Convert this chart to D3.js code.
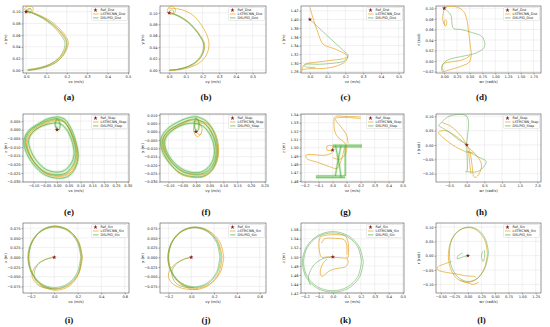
<!DOCTYPE html>
<html><head><meta charset="utf-8">
<script src="https://cdn.jsdelivr.net/npm/d3@7"></script>
<style>body{margin:0;background:#fff}</style>
</head><body><script>
// ---- data (x = velocity, y = position) ----
var aRef = [[0.0, 0.100]];
var aLstm = [
  [[0.0,0.103],[0.03,0.099],[0.08,0.092],[0.13,0.082],[0.17,0.069],[0.195,0.058],[0.207,0.048],[0.2,0.036],[0.18,0.024],[0.145,0.013],[0.1,0.006],[0.05,0.002],[0.01,0.0]],
  [[0.01,0.101],[0.04,0.097],[0.085,0.089],[0.128,0.079],[0.163,0.067],[0.187,0.056],[0.198,0.047],[0.192,0.036],[0.172,0.024],[0.138,0.014],[0.094,0.007],[0.048,0.003],[0.008,0.001]],
  [[0.0,0.100],[-0.006,0.105],[0.004,0.109],[0.02,0.110],[0.034,0.107],[0.032,0.101],[0.02,0.098],[0.006,0.100],[0.012,0.104],[0.025,0.105]]
];
var aDsl = [
  [[0.005,0.101],[0.035,0.097],[0.08,0.089],[0.123,0.078],[0.158,0.066],[0.181,0.055],[0.191,0.046],[0.185,0.035],[0.166,0.023],[0.133,0.013],[0.09,0.006],[0.045,0.002],[0.005,0.0]],
  [[0.0,0.102],[0.03,0.098],[0.078,0.091],[0.126,0.08],[0.165,0.068],[0.19,0.057],[0.201,0.047],[0.196,0.036],[0.176,0.023],[0.142,0.012],[0.097,0.005],[0.05,0.001],[0.008,-0.001]],
  [[0.0,0.100],[0.008,0.105],[0.02,0.106],[0.026,0.102],[0.015,0.099],[0.0,0.100]]
];
var aXTicks = [0.0,0.1,0.2,0.3,0.4,0.5];
var aYTicks = [0.00,0.02,0.04,0.06,0.08,0.10];

var bRef = [[0.0, 0.100]];
var bLstm = [
  [[0.0,0.108],[0.05,0.107],[0.10,0.103],[0.15,0.094],[0.19,0.08],[0.222,0.064],[0.238,0.048],[0.232,0.033],[0.205,0.019],[0.16,0.009],[0.10,0.003],[0.04,0.0],[0.0,-0.001]],
  [[0.02,0.099],[0.062,0.094],[0.112,0.085],[0.157,0.072],[0.192,0.058],[0.212,0.046],[0.209,0.034],[0.187,0.021],[0.147,0.01],[0.092,0.004],[0.042,0.001],[0.0,0.0]],
  [[-0.012,0.104],[0.0,0.11],[0.02,0.111],[0.037,0.106],[0.03,0.099],[0.01,0.098],[-0.008,0.1],[-0.012,0.104]]
];
var bDsl = [
  [[0.01,0.1],[0.055,0.095],[0.105,0.086],[0.15,0.073],[0.185,0.059],[0.205,0.047],[0.203,0.035],[0.182,0.022],[0.142,0.011],[0.088,0.004],[0.04,0.001],[0.0,0.0]],
  [[0.015,0.099],[0.06,0.093],[0.108,0.084],[0.153,0.071],[0.188,0.057],[0.208,0.045],[0.205,0.033],[0.184,0.021],[0.144,0.011],[0.09,0.004],[0.042,0.001],[0.002,0.0]],
  [[0.0,0.1],[0.01,0.105],[0.025,0.104],[0.022,0.099],[0.005,0.099]]
];
var bXTicks = [0.0,0.1,0.2,0.3,0.4,0.5];
var bYTicks = [0.00,0.02,0.04,0.06,0.08,0.10];

var cRef = [[0.0, 1.40]];
var cLstm = [
  [[0.0,1.428],[0.02,1.40],[0.045,1.37],[0.075,1.343],[0.13,1.334],[0.18,1.325],[0.212,1.316],[0.205,1.306],[0.17,1.296],[0.11,1.289],[0.05,1.287],[0.0,1.287],[-0.035,1.285],[-0.045,1.283]],
  [[-0.045,1.283],[-0.04,1.29],[-0.03,1.297],[0.04,1.302],[0.12,1.306],[0.19,1.31],[0.21,1.314]]
];
var cDsl = [
  [[0.0,1.40],[0.05,1.381],[0.1,1.362],[0.15,1.343],[0.19,1.328],[0.215,1.318],[0.21,1.311],[0.19,1.304],[0.12,1.299],[0.05,1.297],[-0.02,1.297],[-0.032,1.294],[-0.02,1.291],[0.03,1.29]]
];
var cXTicks = [0.0,0.1,0.2,0.3,0.4,0.5];
var cYTicks = [1.28,1.30,1.32,1.34,1.36,1.38,1.40,1.42];

var dRef = [[0.0, 0.100]];
var dLstm = [
  [[0.0,0.10],[0.1,0.104],[0.26,0.102],[0.38,0.094],[0.44,0.08],[0.48,0.055],[0.51,0.03],[0.53,0.012],[0.49,-0.002],[0.35,-0.009],[0.2,-0.014],[0.05,-0.018],[-0.04,-0.02],[-0.045,-0.012],[-0.02,-0.005],[0.1,-0.002],[0.25,0.0],[0.4,0.004],[0.5,0.01]],
  [[0.0,0.10],[-0.02,0.09],[-0.03,0.08],[-0.01,0.072],[0.03,0.067],[0.05,0.073],[0.03,0.078],[0.0,0.074],[0.02,0.066]]
];
var dDsl = [
  [[0.0,0.10],[0.06,0.095],[0.13,0.087],[0.18,0.062],[0.32,0.06],[0.55,0.054],[0.745,0.046],[0.79,0.027],[0.615,0.015],[0.32,0.0085],[0.065,0.002],[-0.03,-0.007],[-0.04,-0.015],[0.0,-0.018]]
];
var dXTicks = [0.00,0.25,0.50,0.75,1.00,1.25,1.50,1.75];
var dYTicks = [-0.02,0.00,0.02,0.04,0.06,0.08,0.10];

var eRef = [[0.0, 0.0]];
var eLstm = [
  [[0.0,0.006],[0.03,0.0045],[0.058,-0.001],[0.078,-0.009],[0.084,-0.015],[0.072,-0.021],[0.042,-0.0255],[0.0,-0.0265],[-0.048,-0.025],[-0.092,-0.0195],[-0.122,-0.0125],[-0.13,-0.0065],[-0.112,-0.0015],[-0.072,0.0025],[-0.032,0.005],[0.0,0.006]],
  [[0.005,0.0055],[0.033,0.004],[0.06,-0.0015],[0.082,-0.0095],[0.088,-0.0155],[0.076,-0.0215],[0.045,-0.026],[0.002,-0.027],[-0.046,-0.0255],[-0.09,-0.02],[-0.118,-0.013],[-0.126,-0.007],[-0.108,-0.002],[-0.068,0.002],[-0.028,0.0045],[0.005,0.0055]]
];
var eDsl = [
  [[0.0,0.0065],[0.028,0.005],[0.055,-0.0005],[0.075,-0.0085],[0.08,-0.0145],[0.068,-0.0205],[0.038,-0.025],[-0.002,-0.026],[-0.05,-0.0245],[-0.095,-0.019],[-0.125,-0.012],[-0.134,-0.006],[-0.116,-0.001],[-0.075,0.003],[-0.035,0.0055],[0.0,0.0065]],
  [[0.002,0.004],[0.025,0.0025],[0.05,-0.002],[0.068,-0.009],[0.072,-0.0145],[0.06,-0.0195],[0.032,-0.0235],[-0.003,-0.0245],[-0.046,-0.023],[-0.086,-0.018],[-0.113,-0.0115],[-0.12,-0.006],[-0.103,-0.0015],[-0.066,0.002],[-0.03,0.0035],[0.002,0.004]],
  [[0.003,0.0075],[0.033,0.006],[0.062,0.0],[0.083,-0.0085],[0.09,-0.0155],[0.078,-0.022],[0.046,-0.027],[0.0,-0.028],[-0.052,-0.026],[-0.1,-0.02],[-0.132,-0.0125],[-0.14,-0.006],[-0.12,-0.0005],[-0.078,0.0035],[-0.036,0.0065],[0.003,0.0075]],
  [[0.0,0.0],[-0.008,0.003],[0.0,0.006],[0.012,0.004],[0.008,0.0],[-0.005,0.002]]
];
var eXTicks = [-0.10,-0.05,0.00,0.05,0.10,0.15,0.20,0.25,0.30];
var eYTicks = [-0.030,-0.025,-0.020,-0.015,-0.010,-0.005,0.000,0.005];

var fRef = [[0.0, 0.0]];
var fLstm = [
  [[0.0,0.006],[0.035,0.004],[0.062,-0.002],[0.076,-0.009],[0.074,-0.016],[0.058,-0.022],[0.03,-0.0255],[-0.005,-0.026],[-0.05,-0.024],[-0.09,-0.018],[-0.113,-0.011],[-0.116,-0.005],[-0.095,0.0],[-0.055,0.004],[-0.02,0.0065],[0.0,0.006]],
  [[0.0,0.0],[0.015,-0.002],[0.022,0.002],[0.012,0.005],[-0.005,0.004],[-0.008,0.0],[0.005,-0.003],[0.02,-0.001]],
  [[0.0,0.007],[0.04,0.005],[0.07,-0.001],[0.082,-0.009],[0.078,-0.017],[0.06,-0.023],[0.03,-0.027],[-0.008,-0.0275],[-0.055,-0.0255],[-0.095,-0.019],[-0.12,-0.011],[-0.122,-0.0045],[-0.1,0.0005],[-0.06,0.0045],[-0.022,0.007]]
];
var fDsl = [
  [[0.0,0.0075],[0.032,0.005],[0.058,-0.001],[0.072,-0.0085],[0.071,-0.0155],[0.055,-0.0215],[0.026,-0.025],[-0.008,-0.0255],[-0.052,-0.0235],[-0.093,-0.0175],[-0.117,-0.0105],[-0.12,-0.0045],[-0.1,0.0005],[-0.06,0.0045],[-0.024,0.007],[0.0,0.0075]],
  [[0.004,0.009],[0.036,0.0065],[0.063,0.0005],[0.078,-0.008],[0.077,-0.0155],[0.06,-0.0225],[0.029,-0.0265],[-0.007,-0.027],[-0.055,-0.025],[-0.098,-0.0185],[-0.124,-0.011],[-0.127,-0.004],[-0.105,0.0015],[-0.063,0.006],[-0.024,0.0085],[0.004,0.009]],
  [[-0.002,0.005],[0.028,0.003],[0.052,-0.002],[0.066,-0.009],[0.065,-0.015],[0.05,-0.0205],[0.022,-0.024],[-0.01,-0.0245],[-0.05,-0.0225],[-0.088,-0.017],[-0.11,-0.0105],[-0.113,-0.005],[-0.095,-0.0005],[-0.057,0.0035],[-0.024,0.005],[-0.002,0.005]],
  [[0.0,0.0],[-0.006,0.004],[0.0,0.008],[0.01,0.006],[0.008,0.001],[0.0,0.0]]
];
var fXTicks = [-0.10,-0.05,0.00,0.05,0.10,0.15,0.20,0.25];
var fYTicks = [-0.030,-0.025,-0.020,-0.015,-0.010,-0.005,0.000,0.005,0.010];

var gRef = [[0.0, 1.497]];
var gLstm = [
  [[0.2,1.537],[0.1,1.5375],[0.015,1.537],[0.01,1.53],[0.015,1.52],[0.04,1.512],[0.08,1.507],[0.1,1.501],[0.09,1.492],[0.05,1.486],[0.0,1.488]],
  [[0.2,1.535],[0.02,1.535],[0.06,1.525],[0.1,1.515],[0.11,1.505]],
  [[0.0,1.494],[-0.05,1.491],[-0.19,1.491],[-0.185,1.487],[-0.1,1.482],[-0.02,1.477],[0.03,1.475],[0.05,1.48],[0.07,1.49],[0.085,1.5]],
  [[-0.04,1.497],[-0.04,1.502],[0.0,1.502],[0.0,1.497],[-0.04,1.497]]
];
var gDsl = [
  [[0.0,1.503],[0.1,1.503],[0.21,1.503]],
  [[0.0,1.501],[0.21,1.501]],
  [[-0.12,1.466],[0.0,1.466],[0.09,1.466]],
  [[-0.12,1.464],[0.09,1.464]],
  [[0.02,1.503],[0.035,1.49],[0.05,1.477],[0.06,1.464]],
  [[0.06,1.503],[0.045,1.49],[0.03,1.477],[0.02,1.466]],
  [[0.09,1.503],[0.09,1.466]]
];
var gXTicks = [-0.2,-0.1,0.0,0.1,0.2,0.3,0.4,0.5];
var gYTicks = [1.46,1.47,1.48,1.49,1.50,1.51,1.52,1.53,1.54];

var hRef = [[0.0, 0.0]];
var hLstm = [
  [[0.0,0.0],[-0.3,0.03],[-0.6,0.05],[-0.8,0.045],[-0.75,0.035],[-0.4,0.0],[-0.1,-0.02],[0.0,-0.025],[0.2,-0.028]],
  [[0.0,0.0],[-0.15,0.03],[-0.45,0.065],[-0.7,0.078]],
  [[0.0,-0.005],[0.15,-0.02],[0.3,-0.04],[0.42,-0.07],[0.35,-0.1],[0.25,-0.113],[0.2,-0.11],[0.15,-0.07],[0.1,-0.03],[0.05,-0.01],[0.0,0.0]],
  [[0.05,-0.02],[0.08,-0.06],[0.12,-0.1]]
];
var hDsl = [
  [[-0.8,0.067],[-0.5,0.1],[0.0,0.1],[0.0,0.0],[0.0,-0.093],[-0.04,-0.093]],
  [[0.0,-0.02],[0.3,-0.04],[0.55,-0.058],[0.45,-0.08],[0.3,-0.093],[0.0,-0.093]],
  [[-0.8,0.067],[-0.5,0.045],[-0.25,0.02],[-0.05,0.005],[0.0,0.0]]
];
var hXTicks = [-0.5,0.0,0.5,1.0,1.5,2.0];
var hYTicks = [-0.10,-0.05,0.00,0.05,0.10];

var iRef = [[0.0, 0.0]];
var iLstm = [
  [[0.24,-0.001],[0.209,0.0395],[0.125,0.069],[0.01,0.08],[-0.105,0.069],[-0.189,0.0395],[-0.22,-0.001],[-0.189,-0.0415],[-0.105,-0.0711],[0.01,-0.082],[0.125,-0.0711],[0.209,-0.0415],[0.24,-0.001]],
  [[0.23,0.002],[0.2,0.041],[0.118,0.07],[0.005,0.079],[-0.108,0.068],[-0.19,0.038],[-0.218,-0.003],[-0.185,-0.044],[-0.1,-0.074],[0.012,-0.085],[0.128,-0.074],[0.205,-0.044],[0.23,0.002]],
  [[0.0,0.0],[-0.05,-0.003],[-0.12,-0.012],[-0.17,-0.028],[-0.19,-0.045],[-0.17,-0.062],[-0.12,-0.075],[-0.05,-0.081],[0.02,-0.082]]
];
var iDsl = [
  [[0.235,0.0],[0.205,0.04],[0.12,0.07],[0.005,0.081],[-0.11,0.07],[-0.194,0.04],[-0.225,0.0],[-0.194,-0.04],[-0.11,-0.07],[0.005,-0.081],[0.12,-0.07],[0.205,-0.04],[0.235,0.0]],
  [[0.225,0.001],[0.196,0.039],[0.114,0.068],[0.003,0.078],[-0.108,0.068],[-0.188,0.039],[-0.216,0.0],[-0.188,-0.039],[-0.108,-0.068],[0.003,-0.078],[0.114,-0.068],[0.196,-0.039],[0.225,0.001]],
  [[0.0,0.0],[-0.06,-0.004],[-0.13,-0.016],[-0.165,-0.033],[-0.17,-0.05],[-0.145,-0.066],[-0.09,-0.077],[-0.02,-0.08]]
];
var iXTicks = [-0.2,0.0,0.2,0.4,0.6];
var iYTicks = [-0.075,-0.050,-0.025,0.000,0.025,0.050,0.075];

var jRef = [[0.0, 0.0]];
var jLstm = [
  [[0.285,-0.001],[0.252,0.0385],[0.162,0.067],[0.04,0.078],[-0.082,0.067],[-0.172,0.0385],[-0.205,-0.001],[-0.172,-0.0405],[-0.082,-0.069],[0.04,-0.08],[0.162,-0.069],[0.252,-0.0405],[0.285,-0.001]],
  [[0.27,0.0],[0.238,0.038],[0.152,0.066],[0.035,0.077],[-0.085,0.066],[-0.17,0.038],[-0.2,0.0],[-0.168,-0.042],[-0.08,-0.072],[0.04,-0.083],[0.158,-0.071],[0.242,-0.04],[0.27,0.0]],
  [[0.0,0.0],[-0.06,-0.004],[-0.13,-0.015],[-0.185,-0.032],[-0.2,-0.05],[-0.17,-0.066],[-0.1,-0.078],[-0.01,-0.083],[0.06,-0.082]]
];
var jDsl = [
  [[0.26,0.0],[0.23,0.039],[0.145,0.068],[0.03,0.078],[-0.088,0.068],[-0.172,0.039],[-0.205,0.0],[-0.172,-0.039],[-0.088,-0.068],[0.03,-0.078],[0.145,-0.068],[0.23,-0.039],[0.26,0.0]],
  [[0.25,0.0],[0.222,0.038],[0.14,0.066],[0.028,0.076],[-0.086,0.066],[-0.168,0.038],[-0.198,0.0],[-0.168,-0.038],[-0.086,-0.066],[0.028,-0.076],[0.14,-0.066],[0.222,-0.038],[0.25,0.0]],
  [[0.0,0.0],[-0.07,-0.006],[-0.14,-0.02],[-0.17,-0.038],[-0.16,-0.055],[-0.12,-0.07],[-0.05,-0.077],[0.02,-0.078]]
];
var jXTicks = [-0.2,0.0,0.2,0.4,0.6];
var jYTicks = [-0.075,-0.050,-0.025,0.000,0.025,0.050,0.075];

var kRef = [[0.0, 1.50]];
var kLstm = [
  [[-0.09,1.545],[-0.05,1.548],[0.03,1.549],[0.09,1.546],[0.11,1.53],[0.112,1.51],[0.105,1.498],[0.06,1.498],[0.0,1.499],[-0.04,1.5],[-0.08,1.499],[-0.095,1.51],[-0.1,1.53],[-0.09,1.545]],
  [[0.1,1.498],[0.11,1.488],[0.09,1.478],[0.04,1.475],[-0.02,1.47],[-0.06,1.46],[-0.08,1.457],[-0.09,1.465],[-0.08,1.48],[-0.06,1.49],[-0.04,1.495]],
  [[-0.08,1.53],[-0.06,1.54],[0.02,1.541],[0.08,1.538],[0.1,1.525],[0.1,1.505]]
];
var kDsl = [
  [[0.218,1.488],[0.189,1.522],[0.109,1.547],[0.0,1.556],[-0.109,1.547],[-0.189,1.522],[-0.218,1.488],[-0.189,1.454],[-0.109,1.43],[0.0,1.422],[0.109,1.43],[0.189,1.454],[0.218,1.488]],
  [[0.205,1.49],[0.178,1.522],[0.102,1.545],[-0.002,1.553],[-0.106,1.545],[-0.182,1.521],[-0.21,1.488],[-0.182,1.456],[-0.106,1.433],[-0.002,1.425],[0.102,1.433],[0.178,1.456],[0.205,1.49]],
  [[0.0,1.50],[-0.06,1.497],[-0.12,1.487],[-0.16,1.47],[-0.175,1.452],[-0.16,1.437]]
];
var kXTicks = [-0.2,-0.1,0.0,0.1,0.2,0.3,0.4,0.5];
var kYTicks = [1.42,1.44,1.46,1.48,1.50,1.52,1.54,1.56];

var lRef = [[0.0, 0.0]];
var lLstm = [
  [[0.36,0.005],[0.32,0.05],[0.19,0.085],[0.02,0.098],[-0.16,0.088],[-0.3,0.055],[-0.36,0.005],[-0.32,-0.045],[-0.2,-0.08],[-0.02,-0.093],[0.16,-0.082],[0.3,-0.045],[0.36,0.005]],
  [[-0.3,-0.02],[-0.45,-0.03],[-0.56,-0.04],[-0.55,-0.05],[-0.4,-0.058],[-0.2,-0.064],[-0.05,-0.07],[0.1,-0.072],[0.15,-0.075]],
  [[-0.15,-0.085],[0.0,-0.095],[0.1,-0.1],[0.2,-0.092]]
];
var lDsl = [
  [[0.38,0.01],[0.33,0.055],[0.2,0.088],[0.03,0.1],[-0.15,0.09],[-0.29,0.06],[-0.34,0.01],[-0.3,-0.04],[-0.18,-0.075],[0.0,-0.09],[0.18,-0.078],[0.32,-0.04],[0.38,0.01]],
  [[0.3,0.02],[0.31,0.0],[0.28,-0.02],[0.25,-0.005],[0.27,0.015]],
  [[0.0,0.0],[-0.1,-0.005],[-0.2,-0.01],[-0.18,0.0],[-0.1,0.01]]
];
var lXTicks = [-0.50,-0.25,0.00,0.25,0.50,0.75,1.00,1.25];
var lYTicks = [-0.10,-0.05,0.00,0.05,0.10];

var captions = ["(a)","(b)","(c)","(d)","(e)","(f)","(g)","(h)","(i)","(j)","(k)","(l)"];
var xLabels = ["vx (m/s)","vy (m/s)","vz (m/s)","wr (rad/s)"];
var yLabels = ["x (m)","y (m)","z (m)","r (rad)"];
var suffixes = ["Dist","Step","Sin"];

// ---- layout ----
var lstmColor = "#e5a21c", dslColor = "#5aab4a", refColor = "#8b1c1c";
var rowBox = [[6,73],[114,182],[223,293]];
var colBox = [[23,129],[160,266],[301,404],[436,541]];
var capY = [97,212,320];

var panels = [
  {ref:aRef,lstm:aLstm,dsl:aDsl,xt:aXTicks,yt:aYTicks,xd:[-0.015,0.505],yd:[-0.005,0.11],xf:".1f",yf:".2f"},
  {ref:bRef,lstm:bLstm,dsl:bDsl,xt:bXTicks,yt:bYTicks,xd:[-0.055,0.58],yd:[-0.005,0.112],xf:".1f",yf:".2f"},
  {ref:cRef,lstm:cLstm,dsl:cDsl,xt:cXTicks,yt:cYTicks,xd:[-0.05,0.53],yd:[1.277,1.431],xf:".1f",yf:".2f"},
  {ref:dRef,lstm:dLstm,dsl:dDsl,xt:dXTicks,yt:dYTicks,xd:[-0.161,1.897],yd:[-0.0225,0.1044],xf:".2f",yf:".2f"},
  {ref:eRef,lstm:eLstm,dsl:eDsl,xt:eXTicks,yt:eYTicks,xd:[-0.144,0.305],yd:[-0.0302,0.0091],xf:".2f",yf:".3f",band:true},
  {ref:fRef,lstm:fLstm,dsl:fDsl,xt:fXTicks,yt:fYTicks,xd:[-0.131,0.255],yd:[-0.0302,0.0106],xf:".2f",yf:".3f",band:true},
  {ref:gRef,lstm:gLstm,dsl:gDsl,xt:gXTicks,yt:gYTicks,xd:[-0.226,0.51],yd:[1.4587,1.5405],xf:".1f",yf:".2f",band:true},
  {ref:hRef,lstm:hLstm,dsl:hDsl,xt:hXTicks,yt:hYTicks,xd:[-0.87,2.1],yd:[-0.129,0.108],xf:".1f",yf:".2f"},
  {ref:iRef,lstm:iLstm,dsl:iDsl,xt:iXTicks,yt:iYTicks,xd:[-0.266,0.636],yd:[-0.092,0.0884],xf:".1f",yf:".3f"},
  {ref:jRef,lstm:jLstm,dsl:jDsl,xt:jXTicks,yt:jYTicks,xd:[-0.274,0.655],yd:[-0.092,0.0884],xf:".1f",yf:".3f"},
  {ref:kRef,lstm:kLstm,dsl:kDsl,xt:kXTicks,yt:kYTicks,xd:[-0.228,0.509],yd:[1.42,1.575],xf:".1f",yf:".2f"},
  {ref:lRef,lstm:lLstm,dsl:lDsl,xt:lXTicks,yt:lYTicks,xd:[-0.588,1.347],yd:[-0.13,0.114],xf:".2f",yf:".2f"}
];

var svg = d3.select("body").append("svg")
    .attr("width", 550).attr("height", 327)
    .style("font-family", "DejaVu Sans");

panels.forEach(function(p, i) {
  var row = Math.floor(i / 4), col = i % 4;
  var L = colBox[col][0], R = colBox[col][1], T = rowBox[row][0], B = rowBox[row][1];
  var x = d3.scaleLinear().domain(p.xd).range([L, R]);
  var y = d3.scaleLinear().domain(p.yd).range([B, T]);
  var g = svg.append("g");

  // grid
  g.selectAll(".gx").data(p.xt).enter().append("line")
    .attr("x1", d => x(d)).attr("x2", d => x(d)).attr("y1", T).attr("y2", B)
    .attr("stroke", "#dcdcdc").attr("stroke-width", 0.4);
  g.selectAll(".gy").data(p.yt).enter().append("line")
    .attr("y1", d => y(d)).attr("y2", d => y(d)).attr("x1", L).attr("x2", R)
    .attr("stroke", "#dcdcdc").attr("stroke-width", 0.4);

  // axes
  var ax = g.append("g").attr("transform", "translate(0," + B + ")")
    .call(d3.axisBottom(x).tickValues(p.xt).tickFormat(d3.format(p.xf)).tickSize(1.5).tickPadding(1));
  var ay = g.append("g").attr("transform", "translate(" + L + ",0)")
    .call(d3.axisLeft(y).tickValues(p.yt).tickFormat(d3.format(p.yf)).tickSize(1.5).tickPadding(1));
  [ax, ay].forEach(function(a) {
    a.select(".domain").remove();
    a.selectAll("line").attr("stroke", "#333").attr("stroke-width", 0.4);
    a.selectAll("text").attr("font-size", "3.6px").attr("fill", "#222").attr("font-family", "DejaVu Sans");
  });
  g.append("rect").attr("x", L).attr("y", T).attr("width", R - L).attr("height", B - T)
    .attr("fill", "none").attr("stroke", "#333").attr("stroke-width", 0.5);

  var line = d3.line().x(d => x(d[0])).y(d => y(d[1])).curve(d3.curveCatmullRom.alpha(0.5));
  var clipId = "clip" + i;
  g.append("clipPath").attr("id", clipId).append("rect")
    .attr("x", L).attr("y", T).attr("width", R - L).attr("height", B - T);
  var plot = g.append("g").attr("clip-path", "url(#" + clipId + ")");

  if (p.band) {
    plot.selectAll(".band").data(p.dsl).enter().append("path")
      .attr("d", line).attr("fill", "none")
      .attr("stroke", "#7fd36a").attr("stroke-width", 2.6).attr("stroke-opacity", 0.35);
  }
  plot.selectAll(".lstm").data(p.lstm).enter().append("path")
    .attr("d", line).attr("fill", "none")
    .attr("stroke", lstmColor).attr("stroke-width", 0.7);
  plot.selectAll(".dsl").data(p.dsl).enter().append("path")
    .attr("d", line).attr("fill", "none")
    .attr("stroke", p.band ? "#3f9a35" : dslColor).attr("stroke-width", 0.6).attr("stroke-opacity", 0.9);
  plot.selectAll(".ref").data(p.ref).enter().append("path")
    .attr("transform", d => "translate(" + x(d[0]) + "," + y(d[1]) + ")")
    .attr("d", d3.symbol().type(d3.symbolStar).size(6)).attr("fill", refColor);

  // legend
  var lw = 36, lh = 13, lx = R - lw - 1.5, ly = T + 1.5;
  var lg = g.append("g");
  lg.append("rect").attr("x", lx).attr("y", ly).attr("width", lw).attr("height", lh).attr("rx", 1)
    .attr("fill", "#fff").attr("fill-opacity", 0.85).attr("stroke", "#ccc").attr("stroke-width", 0.4);
  var suf = suffixes[row];
  var items = [["Ref_" + suf, "ref"], ["LSTMCNN_" + suf, "lstm"], ["DSLPID_" + suf, "dsl"]];
  items.forEach(function(it, k) {
    var yy = ly + 2.6 + k * 3.9;
    if (it[1] === "ref") {
      lg.append("path").attr("transform", "translate(" + (lx + 4) + "," + yy + ")")
        .attr("d", d3.symbol().type(d3.symbolStar).size(6)).attr("fill", refColor);
    } else {
      lg.append("line").attr("x1", lx + 1.5).attr("x2", lx + 7).attr("y1", yy).attr("y2", yy)
        .attr("stroke", it[1] === "lstm" ? lstmColor : dslColor).attr("stroke-width", 0.7);
    }
    lg.append("text").attr("x", lx + 9).attr("y", yy).attr("dy", "0.35em")
      .attr("font-size", "3.4px").attr("fill", "#222").text(it[0]);
  });

  // axis labels
  g.append("text").attr("x", (L + R) / 2).attr("y", B + 9.5).attr("text-anchor", "middle")
    .attr("font-size", "3.8px").attr("fill", "#222").text(xLabels[col]);
  g.append("text").attr("transform", "translate(" + (L - 16) + "," + ((T + B) / 2) + ") rotate(-90)")
    .attr("text-anchor", "middle").attr("font-size", "3.8px").attr("fill", "#222").text(yLabels[col]);

  // caption
  svg.append("text").attr("x", (L + R) / 2 - 7).attr("y", capY[row]).attr("dy", "0.35em")
    .attr("text-anchor", "middle").attr("font-family", "Liberation Serif")
    .attr("font-weight", "bold").attr("font-size", "9px").attr("fill", "#111").text(captions[i]);
});
</script></body></html>
